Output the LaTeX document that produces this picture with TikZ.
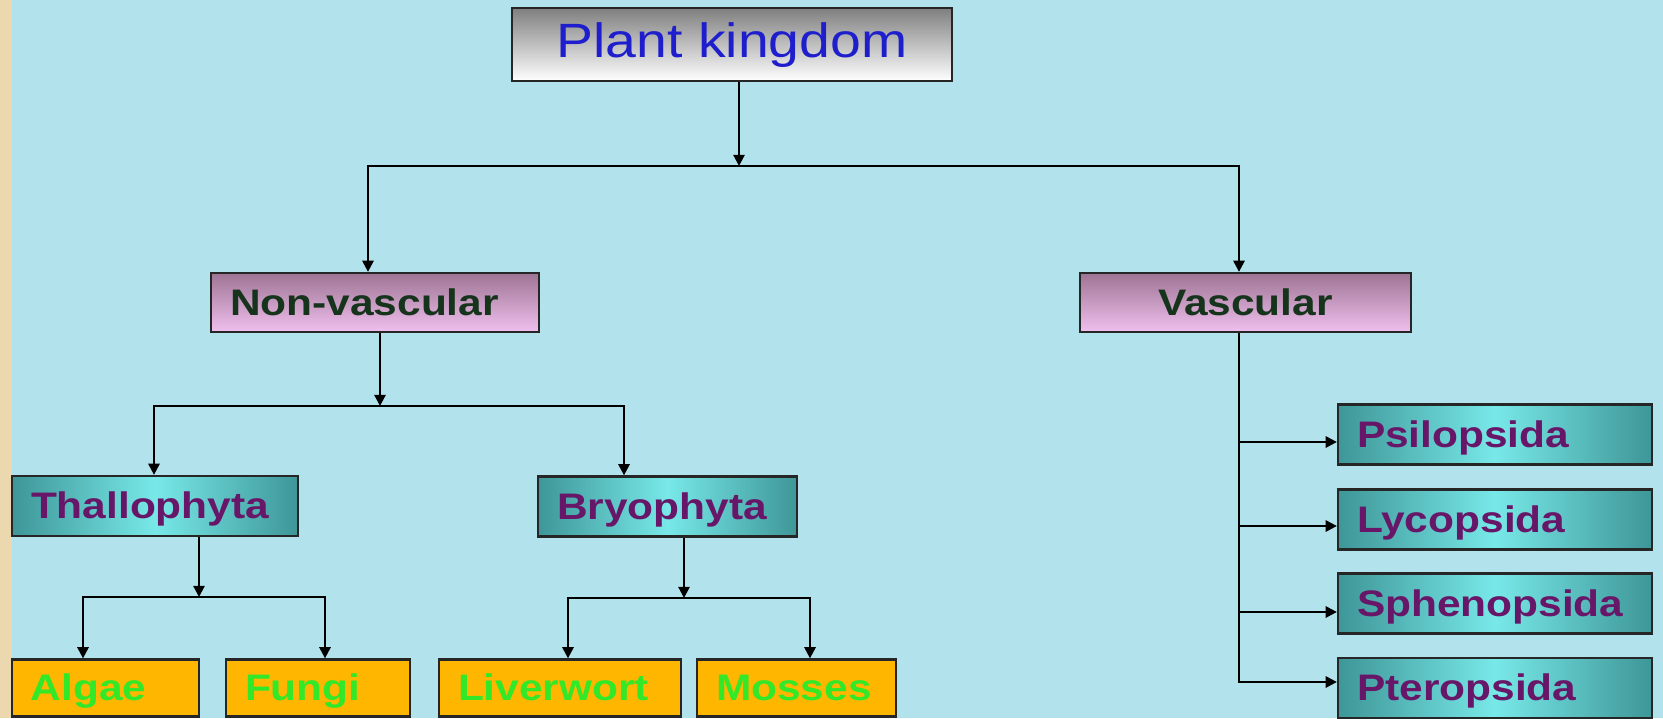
\documentclass[tikz,border=0pt]{standalone}
\usepackage{fontspec}
\usepackage{tikz}
\usetikzlibrary{arrows.meta,positioning,calc}
\newfontfamily\chartfont{Liberation Sans}[FakeStretch=1.15]
\definecolor{skycolor}{RGB}{178,227,236}
\definecolor{sandcolor}{RGB}{236,216,174}
\definecolor{mauvecolor}{RGB}{158,116,148}
\definecolor{pinkcolor}{RGB}{240,192,238}
\definecolor{tealdark}{RGB}{62,150,152}
\definecolor{tealbright}{RGB}{120,232,232}
\definecolor{leafcolor}{RGB}{255,182,0}
\definecolor{leaftext}{RGB}{50,232,40}
\definecolor{grouptext}{RGB}{22,52,28}
\definecolor{classtext}{RGB}{104,22,104}
\definecolor{kingdomtext}{RGB}{30,30,205}

\begin{document}
\begin{tikzpicture}[
    box/.style={
        rectangle, draw=black!85, line width=0.65pt,
        inner xsep=0.19cm, inner ysep=0pt, align=left,
        text height=0.8em, text depth=0.08em,
        font=\chartfont\bfseries\fontsize{10.5}{12}\selectfont
    },
    kingdombox/.style={
        box, top color=black!50, bottom color=white, text=kingdomtext,
        font=\chartfont\fontsize{13.7}{16}\selectfont, align=center,
        minimum width=4.40cm, minimum height=0.73cm
    },
    groupbox/.style={box, top color=mauvecolor, bottom color=pinkcolor, text=grouptext, minimum height=0.59cm},
    classbox/.style={box, left color=tealdark, right color=tealdark, middle color=tealbright, text=classtext, minimum height=0.60cm},
    leafbox/.style={box, fill=leafcolor, text=leaftext, minimum height=0.57cm},
    arrow/.style={-{Triangle[length=3.2pt,width=3.2pt]}, line width=0.65pt}
]

\useasboundingbox (0,0) rectangle (16.63,7.18);
\fill[skycolor] (0,0) rectangle (16.63,7.18);
\fill[sandcolor] (0,0) rectangle (0.12,7.18);

% Top level
\node[kingdombox] (kingdom) at (7.32, 6.735) {Plant kingdom};

\node[groupbox, text width=2.90cm] (nonvasc) at (3.75, 4.155) {Non-vascular};
\node[groupbox, minimum width=3.31cm, align=center] (vasc) at (12.455, 4.155) {Vascular};

\coordinate (top) at (7.39, 5.52);
\draw[arrow] (kingdom.south -| top) -- (top);
\draw[arrow] (top) -| ([xshift=-0.07cm]nonvasc.north);
\draw[arrow] (top) -| ([xshift=-0.065cm]vasc.north);

% Non-vascular side
\node[classbox, text width=2.48cm] (thallo) at (1.55, 2.12) {Thallophyta};
\node[classbox, text width=2.21cm] (bryo) at (6.675, 2.115) {Bryophyta};

\coordinate (nsplit) at (3.80, 3.12);
\draw[arrow] (nonvasc.south -| nsplit) -- (nsplit);
\draw[arrow] (nsplit) -| ([xshift=-0.01cm]thallo.north);
\draw[arrow] (nsplit) -| ([xshift=-0.435cm]bryo.north);

\node[leafbox, text width=1.49cm] (algae) at (1.055, 0.30) {Algae};
\node[leafbox, text width=1.46cm] (fungi) at (3.18, 0.30) {Fungi};
\node[leafbox, text width=2.04cm] (liver) at (5.60, 0.30) {Liverwort};
\node[leafbox, text width=1.61cm] (mosses) at (7.965, 0.30) {Mosses};

\coordinate (tsplit) at (1.99, 1.21);
\draw[arrow] (thallo.south -| tsplit) -- (tsplit);
\draw[arrow] (tsplit) -| ([xshift=-0.225cm]algae.north);
\draw[arrow] (tsplit) -| ([xshift=0.07cm]fungi.north);

\coordinate (bsplit) at (6.84, 1.20);
\draw[arrow] (bryo.south -| bsplit) -- (bsplit);
\draw[arrow] (bsplit) -| ([xshift=0.08cm]liver.north);
\draw[arrow] (bsplit) -| ([xshift=0.135cm]mosses.north);

% Vascular side
\node[classbox, text width=2.76cm] (psilo) at (14.95, 2.835) {Psilopsida};
\node[classbox, text width=2.76cm] (lyco) at (14.95, 1.985) {Lycopsida};
\node[classbox, text width=2.76cm] (spheno) at (14.95, 1.145) {Sphenopsida};
\node[classbox, text width=2.76cm] (ptero) at (14.95, 0.30) {Pteropsida};

\foreach \cls/\dy in {psilo/-0.075, lyco/-0.065, spheno/-0.085, ptero/0.06}
    \draw[arrow] ([xshift=-0.065cm]vasc.south) |- ([yshift=\dy cm]\cls.west);

\end{tikzpicture}
\end{document}
